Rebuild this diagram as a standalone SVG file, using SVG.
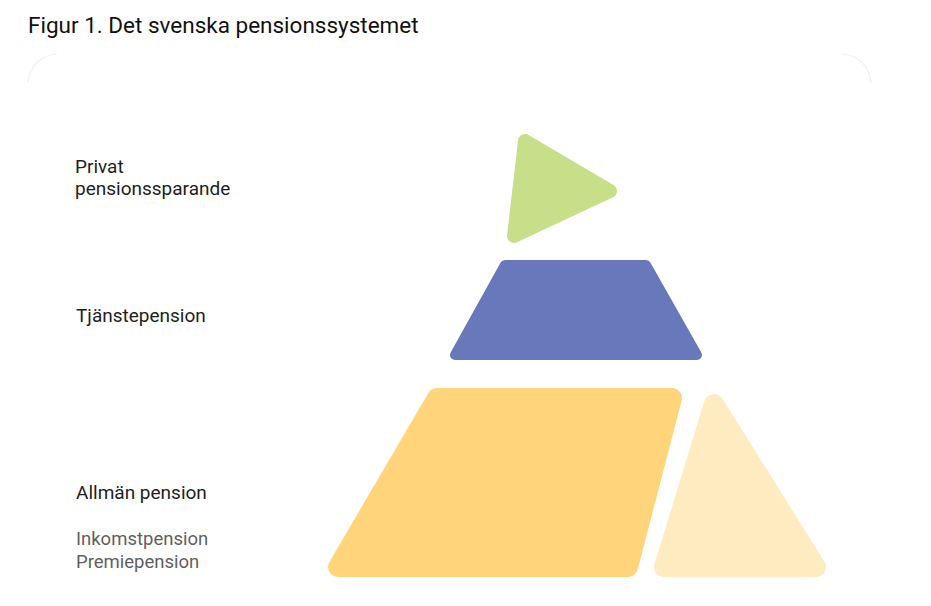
<svg xmlns="http://www.w3.org/2000/svg" width="931" height="606" viewBox="0 0 931 606">
<style>
.title{font-family:Roboto,"Liberation Sans",sans-serif;font-size:22.5px;fill:#111;}
.lbl{font-family:Roboto,"Liberation Sans",sans-serif;font-size:19px;fill:#1e1e1e;}
.sub{font-family:Roboto,"Liberation Sans",sans-serif;font-size:18.5px;fill:#5f5f5f;}
.shape{stroke-linejoin:round;}
.card{fill:none;stroke:#f1f1f1;stroke-width:1.2;}
</style>
<rect width="931" height="606" fill="#ffffff"/>
<path class="card" d="M28,83 A30,30 0 0 1 57,54"/>
<path class="card" d="M842,54 A30,30 0 0 1 871,83"/>
<text class="title" x="28" y="33">Figur 1. Det svenska pensionssystemet</text>
<g id="privat">
<polygon class="shape" points="525,141 610,191 514,236" fill="#C8DF8A" stroke="#C8DF8A" stroke-width="14"/>
<text class="lbl" x="75" y="173">Privat</text>
<text class="lbl" x="75" y="195">pensionssparande</text>
</g>
<g id="tjanstepension">
<polygon class="shape" points="505,265 646,265 697,355 455,355" fill="#6779BB" stroke="#6779BB" stroke-width="10"/>
<text class="lbl" x="76" y="322">Tjänstepension</text>
</g>
<g id="allman">
<polygon class="shape" points="437,398 672,398 628,567 338,567" fill="#FFD47A" stroke="#FFD47A" stroke-width="20"/>
<text class="lbl" x="76" y="499">Allmän pension</text>
<text class="sub" x="76" y="545">Inkomstpension</text>
<text class="sub" x="76" y="568">Premiepension</text>
</g>
<g id="allman-del">
<polygon class="shape" points="714,404 664,567 816,567" fill="#FFEBC0" stroke="#FFEBC0" stroke-width="20"/>
</g>
<g id="connectors"></g>
</svg>
